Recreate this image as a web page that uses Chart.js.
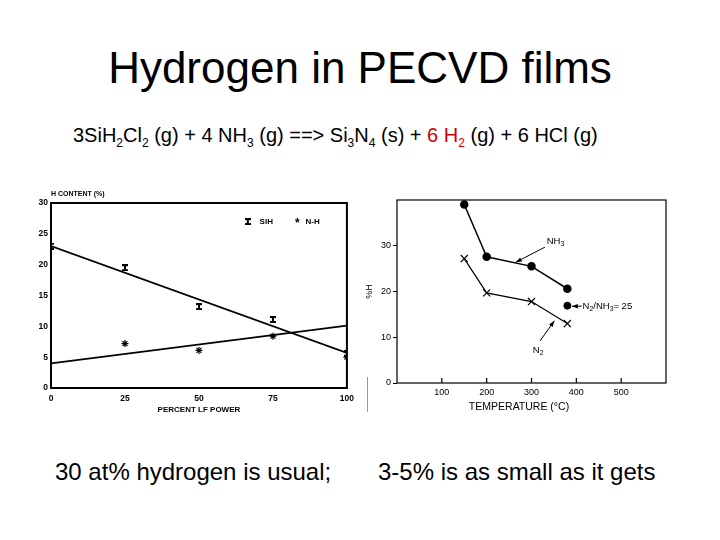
<!DOCTYPE html>
<html>
<head>
<meta charset="utf-8">
<script src="https://cdn.jsdelivr.net/npm/chart.js@4.4.1/dist/chart.umd.min.js"></script>
<style>
  body { margin: 0; width: 720px; height: 540px; background: #fff; position: relative; overflow: hidden;
         font-family: "Liberation Sans", Arial, sans-serif; color: #000; }
  .txt { position: absolute; white-space: nowrap; line-height: 1; }
  #title { left: 0; width: 720px; top: 46px; text-align: center; font-size: 44px; }
  #eqn { left: 73px; top: 125px; font-size: 20px; }
  #eqn sub { font-size: 12px; vertical-align: -5px; line-height: 0; }
  .red { color: #d00000; }
  #noteLeft { left: 55px; top: 460px; font-size: 24px; }
  #noteRight { left: 378px; top: 460px; font-size: 24px; }
  canvas { position: absolute; }
  #scanEdge { position: absolute; left: 367px; top: 377px; width: 1px; height: 35px; background: #999; }
</style>
</head>
<body>
<div id="title" class="txt">Hydrogen in PECVD films</div>
<div id="eqn" class="txt">3SiH<sub>2</sub>Cl<sub>2</sub> (g) + 4 NH<sub>3</sub> (g) ==&gt; Si<sub>3</sub>N<sub>4</sub> (s) + <span class="red">6 H<sub>2</sub></span> (g) + 6 HCl (g)</div>
<canvas id="lfChart" width="340" height="240" style="left:20px;top:180px"></canvas>
<canvas id="tempChart" width="330" height="230" style="left:360px;top:190px"></canvas>
<div id="scanEdge"></div>
<div id="noteLeft" class="txt">30 at% hydrogen is usual;</div>
<div id="noteRight" class="txt">3-5% is as small as it gets</div>

<script>
// Left chart: H content vs percent LF power
const lfPower = [0, 25, 50, 75, 100];
const sihContent = [23, 19.5, 13.2, 11.1, 5.6];
const nhPower = [25, 50, 75, 100];
const nhContent = [7.2, 6.1, 8.4, 5.0];
const fitPower = [0, 100];
const sihFit = [23, 5.7];
const nhFit = [4.0, 10.1];
const lfTicks = [0, 25, 50, 75, 100];
const hTicks = [0, 5, 10, 15, 20, 25, 30];

// Right chart: %H vs deposition temperature
const temps = [150, 200, 300, 380];
const nh3H = [39, 27.6, 25.5, 20.6];
const n2H = [27.2, 19.7, 17.8, 13.0];
const mixTemp = [380];
const mixH = [16.9];
const tempTicks = [100, 200, 300, 400, 500];
const pctTicks = [0, 10, 20, 30];

const pts = (xs, ys) => xs.map((x, i) => ({ x: x, y: ys[i] }));
const setTicks = list => scale => { scale.ticks = list.map(v => ({ value: v })); };

const FAMILY = '"Liberation Sans", Arial, sans-serif';
const boldFont = { family: FAMILY, size: 8.5, weight: 'bold' };
const plainFont = { family: FAMILY, size: 9 };

Chart.defaults.animation = false;
Chart.defaults.color = '#000';

// "I" shaped marker used for the SiH points
function makeIMarker() {
    const c = document.createElement('canvas');
    c.width = 6; c.height = 7;
    const g = c.getContext('2d');
    g.fillStyle = '#000';
    g.fillRect(0, 0, 6, 2);
    g.fillRect(0, 5, 6, 2);
    g.fillRect(2, 0, 2, 7);
    return c;
}
const iMarker = makeIMarker();

function arrow(ctx, x1, y1, x2, y2) {
    ctx.beginPath();
    ctx.moveTo(x1, y1);
    ctx.lineTo(x2, y2);
    ctx.stroke();
    const a = Math.atan2(y2 - y1, x2 - x1), L = 6, W = 2.2;
    ctx.beginPath();
    ctx.moveTo(x2, y2);
    ctx.lineTo(x2 - L * Math.cos(a) + W * Math.sin(a), y2 - L * Math.sin(a) - W * Math.cos(a));
    ctx.lineTo(x2 - L * Math.cos(a) - W * Math.sin(a), y2 - L * Math.sin(a) + W * Math.cos(a));
    ctx.closePath();
    ctx.fill();
}

// text with subscripts: parts = [[text, isSub], ...]
function richText(ctx, parts, x, y, size) {
    let cx = x;
    parts.forEach(([t, sub]) => {
        ctx.font = (sub ? size * 0.72 : size) + 'px ' + FAMILY;
        ctx.fillText(t, cx, sub ? y + size * 0.3 : y);
        cx += ctx.measureText(t).width;
    });
}

const lfExtras = {
    id: 'lfExtras',
    afterDraw(chart) {
        const { ctx, chartArea: a, scales: { x, y } } = chart;
        ctx.save();
        ctx.strokeStyle = '#000';
        ctx.lineWidth = 2;
        ctx.strokeRect(a.left, a.top, a.right - a.left, a.bottom - a.top);
        ctx.fillStyle = '#000';
        ctx.font = 'bold 7px ' + FAMILY;
        ctx.textBaseline = 'middle';
        ctx.fillText('H CONTENT (%)', a.left, a.top - 9);
        // legend
        ctx.font = 'bold 8px ' + FAMILY;
        const ly = y.getPixelForValue(26.9);
        ctx.drawImage(iMarker, x.getPixelForValue(66.5) - 3, ly - 4);
        ctx.fillText('SIH', x.getPixelForValue(70.5), ly);
        ctx.font = 'bold 12px ' + FAMILY;
        ctx.fillText('*', x.getPixelForValue(82.5), ly + 2);
        ctx.font = 'bold 8px ' + FAMILY;
        ctx.fillText('N-H', x.getPixelForValue(86), ly);
        ctx.restore();
    }
};

const tempExtras = {
    id: 'tempExtras',
    afterDraw(chart) {
        const { ctx, chartArea: a, scales: { x, y } } = chart;
        const px = v => x.getPixelForValue(v), py = v => y.getPixelForValue(v);
        ctx.save();
        ctx.strokeStyle = '#000';
        ctx.fillStyle = '#000';
        ctx.lineWidth = 1.2;
        ctx.strokeRect(a.left, a.top, a.right - a.left, a.bottom - a.top);
        // inward tick marks on the temperature axis
        tempTicks.forEach(t => {
            ctx.beginPath();
            ctx.moveTo(px(t), a.bottom);
            ctx.lineTo(px(t), a.bottom - 5);
            ctx.stroke();
        });
        ctx.lineWidth = 1;
        ctx.textBaseline = 'middle';
        // axis title, set a little left of centre as in the original figure
        ctx.textAlign = 'center';
        ctx.font = '10.5px ' + FAMILY;
        ctx.fillText('TEMPERATURE (°C)', a.left + 122, a.bottom + 24);
        ctx.textAlign = 'left';
        richText(ctx, [['NH', 0], ['3', 1]], px(334), py(30.9), 9.5);
        arrow(ctx, px(330), py(29.7), px(265), py(26.4));
        richText(ctx, [['N', 0], ['2', 1], ['/NH', 0], ['3', 1], ['= 25', 0]], px(414), py(16.7), 9.5);
        arrow(ctx, px(412), py(16.8), px(390), py(16.75));
        richText(ctx, [['N', 0], ['2', 1]], px(303), py(7.2), 9.5);
        arrow(ctx, px(319), py(9.2), px(351), py(13.6));
        ctx.restore();
    }
};

new Chart(document.getElementById('lfChart'), {
    type: 'scatter',
    data: {
        datasets: [
            { label: 'SiH fit', data: pts(fitPower, sihFit), showLine: true, borderColor: '#000',
              borderWidth: 1.8, pointRadius: 0 },
            { label: 'N-H fit', data: pts(fitPower, nhFit), showLine: true, borderColor: '#000',
              borderWidth: 1.8, pointRadius: 0 },
            { label: 'SiH', data: pts(lfPower, sihContent), pointStyle: iMarker },
            { label: 'N-H', data: pts(nhPower, nhContent), pointStyle: 'star', pointRadius: 3.5,
              borderColor: '#000', backgroundColor: '#000', borderWidth: 1.2 }
        ]
    },
    options: {
        responsive: false,
        layout: { padding: { top: 23, right: 10, left: 0, bottom: 0 } },
        plugins: { legend: { display: false }, tooltip: { enabled: false } },
        scales: {
            x: {
                type: 'linear', min: 0, max: 100,
                afterBuildTicks: setTicks(lfTicks),
                afterFit: s => { s.height = 32; },
                grid: { drawOnChartArea: false, drawTicks: false },
                border: { display: false },
                ticks: { font: boldFont, padding: 6, maxRotation: 0 },
                title: { display: true, text: 'PERCENT LF POWER', font: { family: FAMILY, size: 8, weight: 'bold' },
                         padding: { top: 0, bottom: 5 } }
            },
            y: {
                min: 0, max: 30,
                afterBuildTicks: setTicks(hTicks),
                afterFit: s => { s.width = 31; },
                grid: { drawOnChartArea: false, drawTicks: false },
                border: { display: false },
                ticks: { font: boldFont, padding: 3 }
            }
        }
    },
    plugins: [lfExtras]
});

new Chart(document.getElementById('tempChart'), {
    type: 'scatter',
    data: {
        datasets: [
            { label: 'NH3', data: pts(temps, nh3H), showLine: true, borderColor: '#000', borderWidth: 1.5,
              pointStyle: 'circle', pointRadius: 3.5, backgroundColor: '#000' },
            { label: 'N2', data: pts(temps, n2H), showLine: true, borderColor: '#000', borderWidth: 1.2,
              pointStyle: 'crossRot', pointRadius: 5, pointBorderWidth: 1.2 },
            { label: 'N2/NH3 = 25', data: pts(mixTemp, mixH), pointStyle: 'circle', pointRadius: 3.5,
              backgroundColor: '#000', borderColor: '#000' }
        ]
    },
    options: {
        responsive: false,
        layout: { padding: { top: 10, right: 24, left: 0, bottom: 0 } },
        plugins: { legend: { display: false }, tooltip: { enabled: false } },
        scales: {
            x: {
                type: 'linear', min: 0, max: 600,
                afterBuildTicks: setTicks(tempTicks),
                afterFit: s => { s.height = 37; },
                grid: { drawOnChartArea: false, drawTicks: false },
                border: { display: false },
                ticks: { font: plainFont, padding: 4, maxRotation: 0 }
            },
            y: {
                min: 0, max: 40,
                afterBuildTicks: setTicks(pctTicks),
                afterFit: s => { s.width = 37; },
                grid: { drawOnChartArea: false, drawTicks: true, tickLength: 4, color: '#000' },
                border: { display: false },
                ticks: { font: plainFont, padding: 2 },
                title: { display: true, text: '%H', font: plainFont, padding: { top: 4.6, bottom: 0 } }
            }
        }
    },
    plugins: [tempExtras]
});
</script>
</body>
</html>
